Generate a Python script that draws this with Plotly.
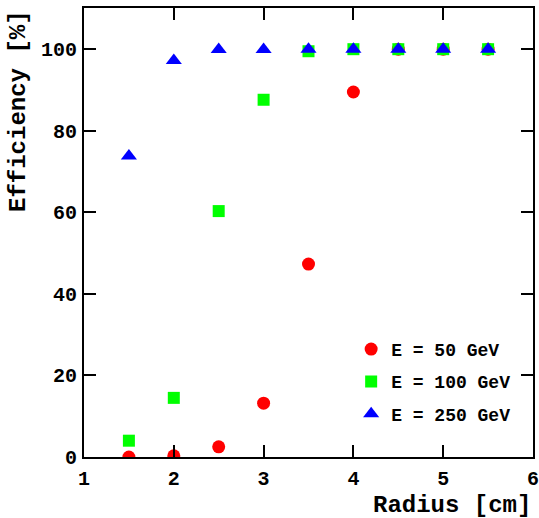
import plotly.graph_objects as go

radius = [1.5, 2.0, 2.5, 3.0, 3.5, 4.0, 4.5, 5.0, 5.5]
eff_50 = [0.0, 0.3, 2.5, 13.2, 47.3, 89.5, 100.0, 100.0, 100.0]
eff_100 = [4.0, 14.5, 60.3, 87.6, 99.5, 100.0, 100.0, 100.0, 100.0]
eff_250 = [73.8, 97.2, 99.9, 99.9, 100.0, 100.0, 100.0, 100.0, 100.0]

FONT = "Liberation Mono"

fig = go.Figure()
fig.add_trace(go.Scatter(x=radius, y=eff_50, mode="markers", name="E = 50 GeV",
                         marker=dict(symbol="circle", size=13, color="#ff0000"),
                         legendgroup="a"))
fig.add_trace(go.Scatter(x=radius, y=eff_100, mode="markers", name="E = 100 GeV",
                         marker=dict(symbol="square", size=12, color="#00ff00"),
                         legendgroup="b"))
fig.add_trace(go.Scatter(x=radius, y=eff_250, mode="markers", name="E = 250 GeV",
                         marker=dict(symbol="triangle-up", size=14, color="#0000ff"),
                         legendgroup="c"))

axis_common = dict(showgrid=False, zeroline=False, showline=True, linewidth=2,
                   linecolor="black", mirror="ticks", ticks="inside", ticklen=12,
                   tickwidth=2, tickcolor="black", automargin=False,
                   ticklabeloverflow="allow",
                   tickfont=dict(family=FONT, size=20, color="black", weight="bold"))

fig.update_layout(
    width=539, height=518,
    margin=dict(l=84, r=6, t=8, b=61),
    paper_bgcolor="white", plot_bgcolor="white",
    xaxis=dict(range=[1, 6], dtick=1, tick0=1, ticklabelstandoff=2, **axis_common),
    yaxis=dict(range=[0, 110.1], dtick=20, tick0=0, ticklabelstandoff=1, **axis_common),
    legend=dict(x=0.595, y=0.281, xanchor="left", yanchor="top",
                bgcolor="rgba(0,0,0,0)", tracegroupgap=6,
                font=dict(family=FONT, size=18, color="black", weight="bold")),
    annotations=[
        dict(text="Radius [cm]", xref="paper", yref="paper", x=1.0, y=-0.073,
             xanchor="right", yanchor="top", showarrow=False,
             font=dict(family=FONT, size=24, color="black", weight="bold")),
        dict(text="Efficiency [%]", xref="paper", yref="paper", x=-0.147, y=1.0,
             xanchor="center", yanchor="top", textangle=-90, showarrow=False,
             font=dict(family=FONT, size=24, color="black", weight="bold")),
    ],
)

# remove the default 8px body margin so the figure fills the window
fig.write_html("out.html",
               config={"displayModeBar": False},
               post_script="document.body.style.margin='0';document.body.style.overflow='hidden';")
